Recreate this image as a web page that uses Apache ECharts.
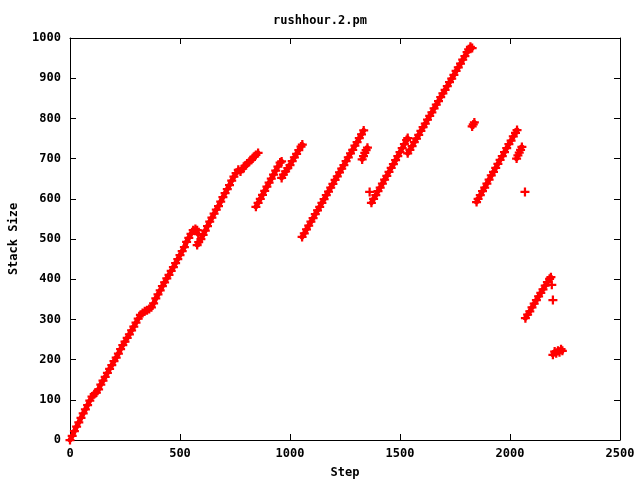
<!DOCTYPE html>
<html>
<head>
<meta charset="utf-8">
<script src="https://cdn.jsdelivr.net/npm/echarts@6/dist/echarts.min.js"></script>
<style>html,body{margin:0;padding:0;background:#fff;}#c{width:640px;height:480px;}</style>
</head>
<body>
<div id="c"></div>
<script>
var chartTitle = 'rushhour.2.pm';
var xName = 'Step';
var yName = 'Stack Size';
var xTicks = [0, 500, 1000, 1500, 2000, 2500];
var yTicks = [0, 100, 200, 300, 400, 500, 600, 700, 800, 900, 1000];

var seg1 = [[0,0],[10,10],[20,22],[30,33],[40,44],[50,55],[60,66],[70,76],[80,87],[90,98],[100,108],[110,114],[120,118],[130,126],[140,138],[150,148],[160,157],[170,167],[180,177],[190,186],[200,196],[210,205],[220,215],[230,226],[240,236],[250,245],[260,254],[270,263],[280,273],[290,282],[300,292],[310,302],[320,311],[330,316],[340,320],[350,323],[360,326],[370,330],[380,340],[390,352],[400,362],[410,372],[420,383],[430,392],[440,402],[450,411],[460,421],[470,430],[480,440],[490,450],[500,460],[510,470],[520,480],[530,493],[540,503],[550,513],[560,522],[570,525],[578,522],[583,512]];
var seg2 = [[578,485],[585,492],[595,500],[605,510],[615,521],[625,532],[635,543],[645,553],[655,563],[665,573],[675,582],[685,593],[695,604],[705,614],[715,624],[725,634],[735,645],[745,655],[755,664],[765,672],[775,668],[785,675],[795,682],[805,688],[815,692],[825,697],[835,704],[845,709],[855,714]];
var seg3 = [[845,580],[855,590],[865,600],[875,610],[885,620],[895,630],[905,640],[915,650],[925,660],[935,670],[945,680],[955,690],[962,693]];
var seg4 = [[962,652],[970,660],[980,668],[990,676],[1000,684],[1010,694],[1020,703],[1030,712],[1040,721],[1050,730],[1056,735]];
var seg5 = [[1055,505],[1065,514],[1075,524],[1085,533],[1095,543],[1105,552],[1115,562],[1125,571],[1135,580],[1145,590],[1155,599],[1165,609],[1175,618],[1185,628],[1195,637],[1205,647],[1215,656],[1225,666],[1235,675],[1245,684],[1255,694],[1265,703],[1275,713],[1285,722],[1295,732],[1305,741],[1315,751],[1325,760],[1335,770]];
var seg6 = [[1328,698],[1334,706],[1340,714],[1346,721],[1352,727]];
var seg7 = [[1370,590],[1380,600],[1390,609],[1400,619],[1410,628],[1420,638],[1430,648],[1440,657],[1450,667],[1460,677],[1470,686],[1480,696],[1490,706],[1500,716],[1510,726],[1520,736],[1530,746],[1535,751]];
var seg8 = [[1535,713],[1545,722],[1555,731],[1565,741],[1575,750],[1585,759],[1595,769],[1605,778],[1615,787],[1625,797],[1635,806],[1645,815],[1655,825],[1665,834],[1675,843],[1685,853],[1695,862],[1705,871],[1715,880],[1725,890],[1735,899],[1745,908],[1755,918],[1765,927],[1775,936],[1785,946],[1795,955],[1805,965],[1812,972],[1820,978],[1828,975]];
var seg9 = [[1828,780],[1833,785],[1838,790]];
var seg10 = [[1848,592],[1855,600],[1865,609],[1875,619],[1885,628],[1895,638],[1905,648],[1915,658],[1925,667],[1935,677],[1945,687],[1955,697],[1965,706],[1975,716],[1985,726],[1995,736],[2005,745],[2015,755],[2025,764],[2032,771]];
var seg11 = [[2030,700],[2036,708],[2042,715],[2048,722],[2054,729]];
var seg13 = [[2070,303],[2080,312],[2090,320],[2100,330],[2110,339],[2120,348],[2130,357],[2140,366],[2150,375],[2160,384],[2170,393],[2180,401],[2186,405]];
var seg14 = [[2195,212],[2203,220],[2210,216],[2218,222],[2225,218],[2232,226],[2238,222]];
var strayPoints = [[1362,617],[2068,617],[2190,386],[2195,348]];

var segments = [seg1, seg2, seg3, seg4, seg5, seg6, seg7, seg8, seg9, seg10, seg11, seg13, seg14];

var font = 'DejaVu Sans Mono';
var plus = 'path://M3,0H5V3H8V5H5V8H3V5H0V3H3Z';
var red = '#ff0000';

var chart = echarts.init(document.getElementById('c'), null, {renderer: 'canvas'});
function axisBase() {
  return {
    axisLine: {show: true, onZero: false, lineStyle: {color: '#000', width: 1}},
    axisTick: {show: true, inside: true, length: 6, lineStyle: {color: '#000'}},
    splitLine: {show: false}
  };
}
var labelStyle = {fontFamily: font, fontSize: 12, fontWeight: 'bold', color: '#000',
  formatter: function (v) { return String(v); }};
var series = segments.map(function (s) {
  return {
    type: 'line',
    data: s,
    symbol: plus,
    symbolSize: 9,
    showAllSymbol: true,
    lineStyle: {color: red, width: 5, cap: 'round', join: 'round'},
    itemStyle: {color: red, opacity: 1},
    silent: true,
    animation: false
  };
});
series.push({
  type: 'scatter',
  data: strayPoints,
  symbol: plus,
  symbolSize: 9,
  itemStyle: {color: red, opacity: 1},
  silent: true,
  animation: false
});
chart.setOption({
  animation: false,
  backgroundColor: '#fff',
  title: {
    text: chartTitle, left: 'center', top: 10,
    textStyle: {fontFamily: font, fontSize: 12, fontWeight: 'bold', color: '#000'}
  },
  grid: {left: 70, right: 20, top: 38, bottom: 40, containLabel: false, outerBoundsMode: 'none'},
  xAxis: [
    Object.assign(axisBase(), {
      type: 'value', min: xTicks[0], max: xTicks[xTicks.length - 1], interval: 500, position: 'bottom',
      name: xName, nameLocation: 'middle', nameGap: 27,
      nameTextStyle: {fontFamily: font, fontSize: 12, fontWeight: 'bold', color: '#000'},
      axisLabel: Object.assign({margin: 8}, labelStyle)
    }),
    Object.assign(axisBase(), {
      type: 'value', min: xTicks[0], max: xTicks[xTicks.length - 1], interval: 500, position: 'top',
      axisLabel: {show: false}
    })
  ],
  yAxis: [
    Object.assign(axisBase(), {
      type: 'value', min: yTicks[0], max: yTicks[yTicks.length - 1], interval: 100, position: 'left',
      name: yName, nameLocation: 'middle', nameGap: 50, nameRotate: 90,
      nameTextStyle: {fontFamily: font, fontSize: 12, fontWeight: 'bold', color: '#000'},
      axisLabel: Object.assign({margin: 9}, labelStyle)
    }),
    Object.assign(axisBase(), {
      type: 'value', min: yTicks[0], max: yTicks[yTicks.length - 1], interval: 100, position: 'right',
      axisLabel: {show: false}
    })
  ],
  series: series
});
</script>
</body>
</html>
